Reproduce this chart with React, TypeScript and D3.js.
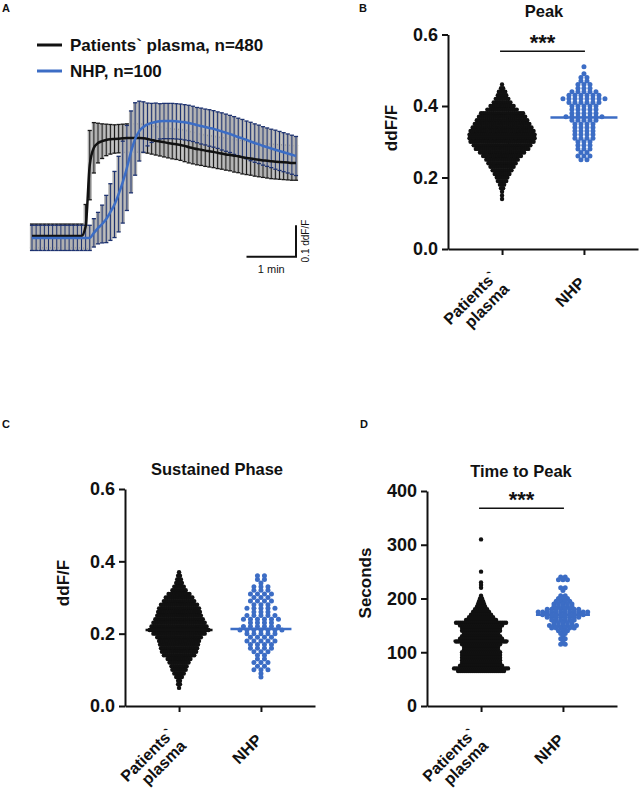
import React, { useEffect, useRef } from "react";
import * as d3 from "d3";

// ---------- Panel A: mean traces (ddF/F over baseline), sampled every 5 s ----------
const timeSec = d3.range(0, 321, 5);

const patientsMean = [
  0, 0, 0, 0, 0, 0, 0, 0, 0, 0, 0, 0, 0,
  0.03, 0.225, 0.28, 0.295, 0.301, 0.305, 0.307, 0.308, 0.309, 0.31,
  0.311, 0.311, 0.311, 0.311, 0.31, 0.308, 0.305, 0.302, 0.3, 0.298,
  0.295, 0.293, 0.291, 0.289, 0.286, 0.282, 0.279, 0.276, 0.274, 0.271,
  0.269, 0.267, 0.264, 0.262, 0.259, 0.257, 0.255, 0.253, 0.25, 0.248,
  0.246, 0.244, 0.242, 0.24, 0.239, 0.237, 0.236, 0.235, 0.234, 0.233,
  0.232, 0.232,
];
const patientsSD = [
  0.038, 0.038, 0.038, 0.038, 0.038, 0.038, 0.038, 0.038, 0.038, 0.038, 0.038, 0.038, 0.038,
  0.07, 0.11, 0.08, 0.063, 0.055, 0.05, 0.047,
  0.045, 0.045, 0.045, 0.045, 0.045, 0.045, 0.045, 0.045, 0.045, 0.045, 0.045,
  0.046, 0.047, 0.047, 0.048, 0.048, 0.049,
  0.05, 0.05, 0.05, 0.05, 0.05, 0.05, 0.05, 0.05, 0.05, 0.05, 0.05, 0.05,
  0.052, 0.052, 0.053, 0.053, 0.053, 0.054, 0.054, 0.054,
  0.055, 0.055, 0.055, 0.055, 0.055, 0.055, 0.055, 0.055,
];
const nhpMean = [
  -0.006, -0.006, -0.006, -0.006, -0.006, -0.006, -0.006, -0.006, -0.006, -0.006,
  -0.006, -0.006, -0.006, -0.006, -0.006,
  0.01, 0.025, 0.038, 0.054, 0.076, 0.1, 0.133, 0.171, 0.216, 0.267,
  0.308, 0.333, 0.346, 0.354, 0.359, 0.362, 0.364, 0.365, 0.365, 0.365,
  0.364, 0.363, 0.361, 0.359, 0.356, 0.352, 0.349, 0.346, 0.343, 0.34,
  0.336, 0.332, 0.328, 0.324, 0.319, 0.314, 0.31, 0.305, 0.3, 0.295,
  0.291, 0.286, 0.282, 0.278, 0.274, 0.27, 0.266, 0.262, 0.258, 0.254,
];
const nhpSD = [
  0.04, 0.04, 0.04, 0.04, 0.04, 0.04, 0.04, 0.04, 0.04, 0.04, 0.04, 0.04, 0.04, 0.04, 0.04,
  0.045, 0.05, 0.06, 0.075, 0.09, 0.105, 0.12, 0.13, 0.135, 0.13, 0.115, 0.095, 0.08, 0.068, 0.062, 0.06,
  0.056, 0.056, 0.056, 0.056, 0.056, 0.056, 0.056, 0.056, 0.056, 0.056,
  0.057, 0.057, 0.058, 0.058, 0.058, 0.059, 0.059, 0.059, 0.06, 0.06, 0.06, 0.06,
  0.061, 0.061, 0.061, 0.061, 0.061, 0.061, 0.062, 0.062, 0.062, 0.062, 0.062, 0.062,
];
const legendLabels = ["Patients` plasma, n=480", "NHP, n=100"];

// ---------- Panels B-D: scatter dot plots, [value, number of cells at that value] ----------
const groups = ["Patients` plasma", "NHP"];
const groupLines = [["Patients`", "plasma"], ["NHP"]];

const peakPatients = [
  [0.46, 1], [0.45, 2], [0.44, 4], [0.43, 5], [0.42, 7], [0.41, 9], [0.4, 12], [0.39, 15],
  [0.38, 21], [0.37, 23], [0.36, 25], [0.35, 27], [0.34, 29], [0.33, 31], [0.32, 32], [0.31, 32],
  [0.3, 31], [0.29, 28], [0.28, 26], [0.27, 22], [0.26, 19], [0.25, 16], [0.24, 14], [0.23, 12],
  [0.22, 10], [0.21, 8], [0.2, 6], [0.19, 5], [0.18, 3], [0.17, 2], [0.16, 1], [0.15, 1], [0.14, 1],
];
const peakNHP = [
  [0.51, 1], [0.49, 1], [0.48, 2], [0.47, 2], [0.46, 3], [0.45, 3], [0.44, 5], [0.43, 6],
  [0.42, 8], [0.41, 6], [0.4, 5], [0.39, 5], [0.38, 5], [0.37, 7], [0.36, 5], [0.35, 4],
  [0.34, 4], [0.33, 4], [0.32, 4], [0.31, 4], [0.3, 3], [0.29, 3], [0.28, 3], [0.27, 2],
  [0.26, 3], [0.25, 2],
];
const sustainedPatients = [
  [0.37, 1], [0.36, 2], [0.35, 3], [0.34, 4], [0.33, 6], [0.32, 8], [0.31, 12], [0.3, 15],
  [0.29, 17], [0.28, 20], [0.27, 22], [0.26, 23], [0.25, 24], [0.24, 26], [0.23, 28], [0.22, 30],
  [0.21, 32], [0.2, 28], [0.19, 24], [0.18, 22], [0.17, 21], [0.16, 20], [0.15, 19], [0.14, 17],
  [0.13, 13], [0.12, 11], [0.11, 9], [0.1, 8], [0.09, 6], [0.08, 4], [0.07, 2], [0.06, 2], [0.05, 1],
];
const sustainedNHP = [
  [0.36, 2], [0.35, 2], [0.34, 1], [0.33, 3], [0.32, 3], [0.31, 4], [0.3, 3], [0.29, 4],
  [0.28, 3], [0.27, 5], [0.26, 3], [0.25, 5], [0.24, 6], [0.23, 4], [0.22, 6], [0.21, 7],
  [0.2, 5], [0.19, 4], [0.18, 5], [0.17, 4], [0.16, 4], [0.15, 3], [0.14, 2], [0.13, 2],
  [0.12, 3], [0.11, 2], [0.1, 3], [0.09, 1], [0.08, 1],
];
const ttpPatients = [
  [310, 1], [250, 1], [230, 1], [225, 1], [220, 1], [205, 1], [200, 2], [195, 3], [190, 4],
  [185, 5], [180, 7], [175, 9], [170, 11], [165, 13], [160, 16], [155, 26], [150, 22], [145, 20],
  [140, 20], [135, 18], [130, 20], [125, 22], [120, 26], [115, 20], [110, 18], [105, 18],
  [100, 20], [95, 20], [90, 20], [85, 20], [80, 20], [75, 22], [70, 28], [65, 24],
];
const ttpNHP = [
  [240, 2], [235, 3], [220, 2], [215, 1], [205, 2], [200, 3], [195, 4], [190, 5], [185, 5],
  [180, 8], [175, 12], [170, 10], [165, 8], [160, 6], [155, 5], [150, 7], [145, 6], [140, 3],
  [135, 2], [130, 1], [125, 2], [120, 1], [115, 2],
];

const peakMedians = [0.315, 0.368];
const sustainedMedians = [0.21, 0.213];
const ttpMedians = [121, 170];

const ddfTicks = [0, 0.2, 0.4, 0.6];
const secTicks = [0, 100, 200, 300, 400];

const FONT = "'Liberation Sans', Arial, Helvetica, sans-serif";
const BLACK = "#111111";
const BLUE = "#3c6dc5";
const NAVY = "#1d3270";

const App = () => {
  const ref = useRef(null);

  useEffect(() => {
    const svg = d3.select(ref.current);
    svg.selectAll("*").remove();

    const letter = (txt, x, y) =>
      svg
        .append("text")
        .attr("x", x)
        .attr("y", y)
        .attr("font-family", FONT)
        .attr("font-size", 11)
        .attr("font-weight", "bold")
        .attr("fill", BLACK)
        .text(txt);

    // ----- Panel A -----
    letter("A", 2, 12);
    const gA = svg.append("g");
    const x = d3.scaleLinear().domain([0, 320]).range([32, 296]);
    const y = d3.scaleLinear().domain([0, 0.4]).range([236, 110]);
    const half = (x(5) - x(0)) / 2;

    const series = [
      { mean: patientsMean, sd: patientsSD, bar: "#1a1a1a", line: BLACK },
      { mean: nhpMean, sd: nhpSD, bar: NAVY, line: BLUE },
    ];

    series.forEach((s) => {
      const pts = timeSec.map((t, i) => ({ t, m: s.mean[i], e: s.sd[i] }));
      const g = gA.append("g");
      g.selectAll("rect")
        .data(pts)
        .join("rect")
        .attr("x", (d) => x(d.t) - half)
        .attr("width", half * 2)
        .attr("y", (d) => y(d.m + d.e))
        .attr("height", (d) => y(d.m - d.e) - y(d.m + d.e))
        .attr("fill", "#b0b0b0");
      g.selectAll("line.bar")
        .data(pts)
        .join("line")
        .attr("class", "bar")
        .attr("x1", (d) => x(d.t))
        .attr("x2", (d) => x(d.t))
        .attr("y1", (d) => y(d.m + d.e))
        .attr("y2", (d) => y(d.m - d.e))
        .attr("stroke", s.bar)
        .attr("stroke-width", 1);
      [1, -1].forEach((sign) => {
        g.selectAll(null)
          .data(pts)
          .join("line")
          .attr("x1", (d) => x(d.t) - half)
          .attr("x2", (d) => x(d.t) + half)
          .attr("y1", (d) => y(d.m + sign * d.e))
          .attr("y2", (d) => y(d.m + sign * d.e))
          .attr("stroke", s.bar)
          .attr("stroke-width", 1.3);
      });
    });

    series.forEach((s) => {
      gA.append("path")
        .datum(timeSec.map((t, i) => [t, s.mean[i]]))
        .attr("d", d3.line().x((d) => x(d[0])).y((d) => y(d[1])).curve(d3.curveMonotoneX))
        .attr("fill", "none")
        .attr("stroke", s.line)
        .attr("stroke-width", 2.5);
    });

    // scale bar: 1 min x 0.1 ddF/F
    const barV = -0.066;
    gA.append("path")
      .attr("d", `M${x(260)},${y(barV)}H${x(320)}V${y(barV + 0.1)}`)
      .attr("fill", "none")
      .attr("stroke", BLACK)
      .attr("stroke-width", 2);
    gA.append("text")
      .attr("x", (x(260) + x(320)) / 2)
      .attr("y", y(barV) + 16)
      .attr("text-anchor", "middle")
      .attr("font-family", FONT)
      .attr("font-size", 11)
      .attr("fill", BLACK)
      .text("1 min");
    gA.append("text")
      .attr("transform", `translate(${x(320) + 13},${y(barV + 0.05)}) rotate(-90)`)
      .attr("text-anchor", "middle")
      .attr("font-family", FONT)
      .attr("font-size", 10)
      .attr("fill", BLACK)
      .text("0.1 ddF/F");

    // legend
    legendLabels.forEach((lab, i) => {
      const ly = 45 + i * 26;
      gA.append("line")
        .attr("x1", 37)
        .attr("x2", 62)
        .attr("y1", ly)
        .attr("y2", ly)
        .attr("stroke", i === 0 ? BLACK : BLUE)
        .attr("stroke-width", 3);
      gA.append("text")
        .attr("x", 70)
        .attr("y", ly + 6)
        .attr("font-family", FONT)
        .attr("font-size", 17)
        .attr("font-weight", "bold")
        .attr("fill", BLACK)
        .text(lab);
    });

    // ----- Panels B, C, D -----
    const panels = [
      {
        letter: "B", lx: 359, ly: 12, axisX: 448, yRange: [249, 34.5], domain: [0, 0.6],
        ticks: ddfTicks, fmt: d3.format(".1f"), title: "Peak", tx: 544, ty: 17,
        ylabel: "ddF/F", ylx: 397, yly: 128, data: [peakPatients, peakNHP],
        spacing: [2.1, 6], medians: peakMedians, halfLine: [34, 33.5], sig: 0.553,
      },
      {
        letter: "C", lx: 2, ly: 428, axisX: 125, yRange: [706, 489], domain: [0, 0.6],
        ticks: ddfTicks, fmt: d3.format(".1f"), title: "Sustained Phase", tx: 217, ty: 475,
        ylabel: "ddF/F", ylx: 69, yly: 583, data: [sustainedPatients, sustainedNHP],
        spacing: [1.9, 7], medians: sustainedMedians, halfLine: [33.5, 30.5], sig: null,
      },
      {
        letter: "D", lx: 360, ly: 428, axisX: 427, yRange: [706, 491], domain: [0, 400],
        ticks: secTicks, fmt: d3.format("d"), title: "Time to Peak", tx: 521, ty: 477,
        ylabel: "Seconds", ylx: 371, yly: 583, data: [ttpPatients, ttpNHP],
        spacing: [2.0, 4.5], medians: ttpMedians, halfLine: [27.5, 27], sig: 368,
      },
    ];

    panels.forEach((p) => {
      letter(p.letter, p.lx, p.ly);
      const g = svg.append("g");
      const yS = d3.scaleLinear().domain(p.domain).range(p.yRange);
      const xS = d3.scalePoint().domain(groups).range([p.axisX, p.axisX + 190]).padding(0.66);

      const style = (sel) => {
        sel.select(".domain").attr("stroke", BLACK).attr("stroke-width", 2);
        sel.selectAll(".tick line").attr("stroke", BLACK).attr("stroke-width", 2);
        sel.selectAll(".tick text")
          .attr("font-family", FONT)
          .attr("font-size", 18)
          .attr("font-weight", "bold")
          .attr("fill", BLACK);
      };

      g.append("g")
        .attr("transform", `translate(${p.axisX},0)`)
        .call(d3.axisLeft(yS).tickValues(p.ticks).tickFormat(p.fmt).tickSize(6).tickPadding(4).tickSizeOuter(0))
        .call(style);
      g.append("g")
        .attr("transform", `translate(0,${yS(0)})`)
        .call(d3.axisBottom(xS).tickSize(6).tickSizeOuter(0).tickFormat(() => ""))
        .call(style);

      // rotated category labels
      groups.forEach((grp, i) => {
        const lines = groupLines[i];
        const t = g.append("text")
          .attr("transform", `translate(${xS(grp) + 2},${yS(0) + 35}) rotate(-45)`)
          .attr("text-anchor", "end")
          .attr("font-family", FONT)
          .attr("font-size", 16)
          .attr("font-weight", "bold")
          .attr("fill", BLACK);
        lines.forEach((ln, k) => {
          t.append("tspan").attr("x", 0).attr("y", (k - (lines.length - 1) / 2) * 17).text(ln);
        });
      });

      // dots
      p.data.forEach((bins, i) => {
        const cx = xS(groups[i]);
        const color = i === 0 ? BLACK : BLUE;
        const pts = [];
        bins.forEach(([v, n]) => {
          for (let k = 0; k < n; k++) pts.push({ v, off: (k - (n - 1) / 2) * p.spacing[i] });
        });
        g.append("g")
          .selectAll("circle")
          .data(pts)
          .join("circle")
          .attr("cx", (d) => cx + d.off)
          .attr("cy", (d) => yS(d.v))
          .attr("r", i === 0 ? 2.2 : 2.5)
          .attr("fill", color);
        g.append("line")
          .attr("x1", cx - p.halfLine[i])
          .attr("x2", cx + p.halfLine[i])
          .attr("y1", yS(p.medians[i]))
          .attr("y2", yS(p.medians[i]))
          .attr("stroke", color)
          .attr("stroke-width", 2.5);
      });

      // title + y label
      g.append("text")
        .attr("x", p.tx)
        .attr("y", p.ty)
        .attr("text-anchor", "middle")
        .attr("font-family", FONT)
        .attr("font-size", 16.5)
        .attr("font-weight", "bold")
        .attr("fill", BLACK)
        .text(p.title);
      g.append("text")
        .attr("transform", `translate(${p.ylx},${p.yly}) rotate(-90)`)
        .attr("text-anchor", "middle")
        .attr("font-family", FONT)
        .attr("font-size", 17)
        .attr("font-weight", "bold")
        .attr("fill", BLACK)
        .text(p.ylabel);

      // significance bar
      if (p.sig !== null) {
        const x1 = xS(groups[0]) - 2;
        const x2 = xS(groups[1]) + 1;
        g.append("line")
          .attr("x1", x1)
          .attr("x2", x2)
          .attr("y1", yS(p.sig))
          .attr("y2", yS(p.sig))
          .attr("stroke", BLACK)
          .attr("stroke-width", 1.5);
        g.append("text")
          .attr("x", (x1 + x2) / 2)
          .attr("y", yS(p.sig) - 1)
          .attr("text-anchor", "middle")
          .attr("font-family", FONT)
          .attr("font-size", 22)
          .attr("font-weight", "bold")
          .attr("fill", BLACK)
          .text("***");
      }
    });
  }, []);

  return (
    <svg
      ref={ref}
      width={642}
      height={800}
      style={{ position: "absolute", left: 0, top: 0, background: "#fff" }}
    />
  );
};

export default App;
